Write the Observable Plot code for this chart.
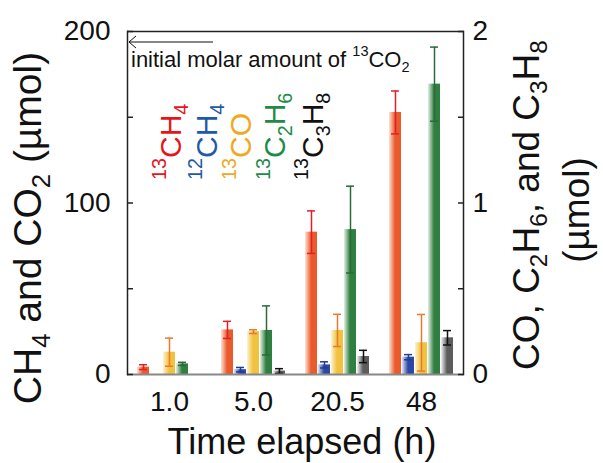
<!DOCTYPE html>
<html><head><meta charset="utf-8">
<script src="https://cdn.jsdelivr.net/npm/d3@7"></script>
<script src="https://cdn.jsdelivr.net/npm/@observablehq/plot@0.6"></script>
<style>
html,body{margin:0;padding:0;background:#fff;}
#chart svg{font-family:"Liberation Sans",Arial,Helvetica,sans-serif;}
</style></head><body><div id="chart"></div>
<script>
// ---- data ----
const times = ["1.0", "5.0", "20.5", "48"];
const species = ["13CH4", "12CH4", "13CO", "13C2H6", "13C3H8"];
// left axis (µmol, 0–200)
const ch4_13 = [4.3, 26.0, 83.0, 152.8];
const ch4_13_err = [1.4, 5.0, 12.4, 12.5];
const ch4_12 = [0, 2.8, 5.6, 10.1];
const ch4_12_err = [0, 1.3, 1.8, 1.5];
// right axis (µmol, 0–2)
const co_13 = [0.13, 0.25, 0.257, 0.185];
const co_13_err = [0.082, 0.011, 0.094, 0.165];
const c2h6_13 = [0.062, 0.257, 0.845, 1.693];
const c2h6_13_err = [0.009, 0.143, 0.253, 0.216];
const c3h8_13 = [0, 0.02, 0.105, 0.214];
const c3h8_13_err = [0, 0.014, 0.036, 0.042];
const leftTicks = [0, 50, 100, 150, 200];
const leftLabels = [0, 100, 200];
const rightLabels = [0, 1, 2];
const rightScale = 100; // right axis 0–2 maps onto left 0–200

const seriesValues = [ch4_13, ch4_12, co_13, c2h6_13, c3h8_13];
const seriesErrors = [ch4_13_err, ch4_12_err, co_13_err, c2h6_13_err, c3h8_13_err];
const seriesFactor = [1, 1, rightScale, rightScale, rightScale];
const barLight = ["#fde3d8", "#dfe4f4", "#fdf3d2", "#e4efe5", "#f2f2f2"];
const barFull = ["#ea5a2c", "#2c48a2", "#f0c23e", "#2f7f40", "#5c5c5c"];
const errColor = ["#e41e26", "#1d3d98", "#e9792e", "#2a6a3a", "#111111"];

const rows = [];
species.forEach((s, i) => times.forEach((t, j) => {
  rows.push({time: t, species: s, si: i,
    y: seriesValues[i][j] * seriesFactor[i],
    e: seriesErrors[i][j] * seriesFactor[i]});
}));

const marks = [];
species.forEach((s, i) => {
  const d = rows.filter(r => r.si === i);
  marks.push(Plot.barY(d, {fx: "time", x: "species", y: "y", fill: `url(#grad${i})`}));
});
species.forEach((s, i) => {
  const d = rows.filter(r => r.si === i && r.e > 0);
  marks.push(Plot.ruleX(d, {fx: "time", x: "species", y1: r => r.y - r.e, y2: r => r.y + r.e, stroke: errColor[i], strokeWidth: 1.5}));
  marks.push(Plot.tickY(d, {fx: "time", x: "species", y: r => r.y + r.e, stroke: errColor[i], strokeWidth: 1.5, insetLeft: 2, insetRight: 2}));
  marks.push(Plot.tickY(d, {fx: "time", x: "species", y: r => r.y - r.e, stroke: errColor[i], strokeWidth: 1.5, insetLeft: 2, insetRight: 2}));
});

const plot = Plot.plot({
  width: 603, height: 463,
  marginLeft: 127, marginRight: 140, marginTop: 31, marginBottom: 89,
  style: {fontFamily: "Liberation Sans, Arial, Helvetica, sans-serif", background: "#fff"},
  fx: {domain: times, padding: 0},
  x: {domain: species, axis: null, paddingInner: 0.1, paddingOuter: 0.75},
  y: {domain: [0, 200]},
  marks: [
    ...marks,
    Plot.ruleY([0], {stroke: "#888", strokeWidth: 2}),
    Plot.ruleY([200], {stroke: "#222", strokeWidth: 1.5}),
    Plot.frame({anchor: "left", facetAnchor: "left", stroke: "#222", strokeWidth: 1.5}),
    Plot.frame({anchor: "right", facetAnchor: "right", stroke: "#222", strokeWidth: 1.5}),
    Plot.axisY(leftTicks, {anchor: "left", tickSize: -6, tickFormat: () => "", label: null, stroke: "#222", strokeWidth: 1.5}),
    Plot.axisY(leftTicks, {anchor: "right", tickSize: -6, tickFormat: () => "", label: null, stroke: "#222", strokeWidth: 1.5}),
    Plot.axisY(leftLabels, {anchor: "left", tickSize: 0, tickPadding: 17, fontSize: 28, label: null, fill: "#111"}),
    Plot.axisY(rightLabels.map(v => v * rightScale), {anchor: "right", tickSize: 0, tickPadding: 9, fontSize: 28, label: null, fill: "#111", tickFormat: v => String(v / rightScale)}),
    Plot.axisFx({anchor: "bottom", tickSize: 0, tickPadding: 17, fontSize: 28, label: null, fill: "#111"})
  ]
});
document.getElementById("chart").appendChild(plot);

// ---- gradients ----
const svg = d3.select(plot);
const defs = svg.insert("defs", ":first-child");
species.forEach((s, i) => {
  const g = defs.append("linearGradient").attr("id", `grad${i}`).attr("x1", 0).attr("x2", 1).attr("y1", 0).attr("y2", 0);
  g.append("stop").attr("offset", "0%").attr("stop-color", barLight[i]);
  g.append("stop").attr("offset", "50%").attr("stop-color", barFull[i]);
  g.append("stop").attr("offset", "100%").attr("stop-color", barFull[i]);
});

// ---- rich text (super/subscripts) ----
function richText(x, y, rot, parts, size, anchor, color) {
  const t = svg.append("text")
    .attr("transform", `translate(${x},${y}) rotate(${rot})`)
    .attr("text-anchor", anchor).attr("font-size", size).attr("fill", color)
    .attr("font-family", "Liberation Sans, Arial, Helvetica, sans-serif");
  let cur = 0;
  for (const [s, kind] of parts) {
    const shift = kind === "sup" ? -0.5 * size : kind === "sub" ? 0.22 * size : 0;
    t.append("tspan").attr("dy", shift - cur).attr("font-size", kind === "n" ? size : 0.66 * size).text(s);
    cur = shift;
  }
  return t;
}

// axis titles
richText(41, 228, -90, [["CH", "n"], ["4", "sub"], [" and CO", "n"], ["2", "sub"], [" (\u00b5mol)", "n"]], 39, "middle", "#111");
richText(539, 205, -90, [["CO, C", "n"], ["2", "sub"], ["H", "n"], ["6", "sub"], [", and C", "n"], ["3", "sub"], ["H", "n"], ["8", "sub"]], 37, "middle", "#111");
richText(589, 210, -90, [["(\u00b5mol)", "n"]], 37, "middle", "#111");
richText(302, 454, 0, [["Time elapsed (h)", "n"]], 36, "middle", "#111");

// legend (rotated labels)
const legendParts = [
  [["13", "sup"], ["CH", "n"], ["4", "sub"]],
  [["12", "sup"], ["CH", "n"], ["4", "sub"]],
  [["13", "sup"], ["CO", "n"]],
  [["13", "sup"], ["C", "n"], ["2", "sub"], ["H", "n"], ["6", "sub"]],
  [["13", "sup"], ["C", "n"], ["3", "sub"], ["H", "n"], ["8", "sub"]]
];
const legendColors = ["#e8141c", "#1f5aa6", "#f0a81e", "#1e8c46", "#111111"];
const legendX = [181, 217, 251, 285, 323];
legendParts.forEach((p, i) => richText(legendX[i], 180, -90, p, 30, "start", legendColors[i]));

// annotation: initial amount arrow
svg.append("path").attr("d", "M213,42H129M136,36L129,42L136,48").attr("fill", "none").attr("stroke", "#111").attr("stroke-width", 1);
richText(131, 67, 0, [["initial molar amount of ", "n"], ["13", "sup"], ["CO", "n"], ["2", "sub"]], 22, "start", "#111");
</script></body></html>
